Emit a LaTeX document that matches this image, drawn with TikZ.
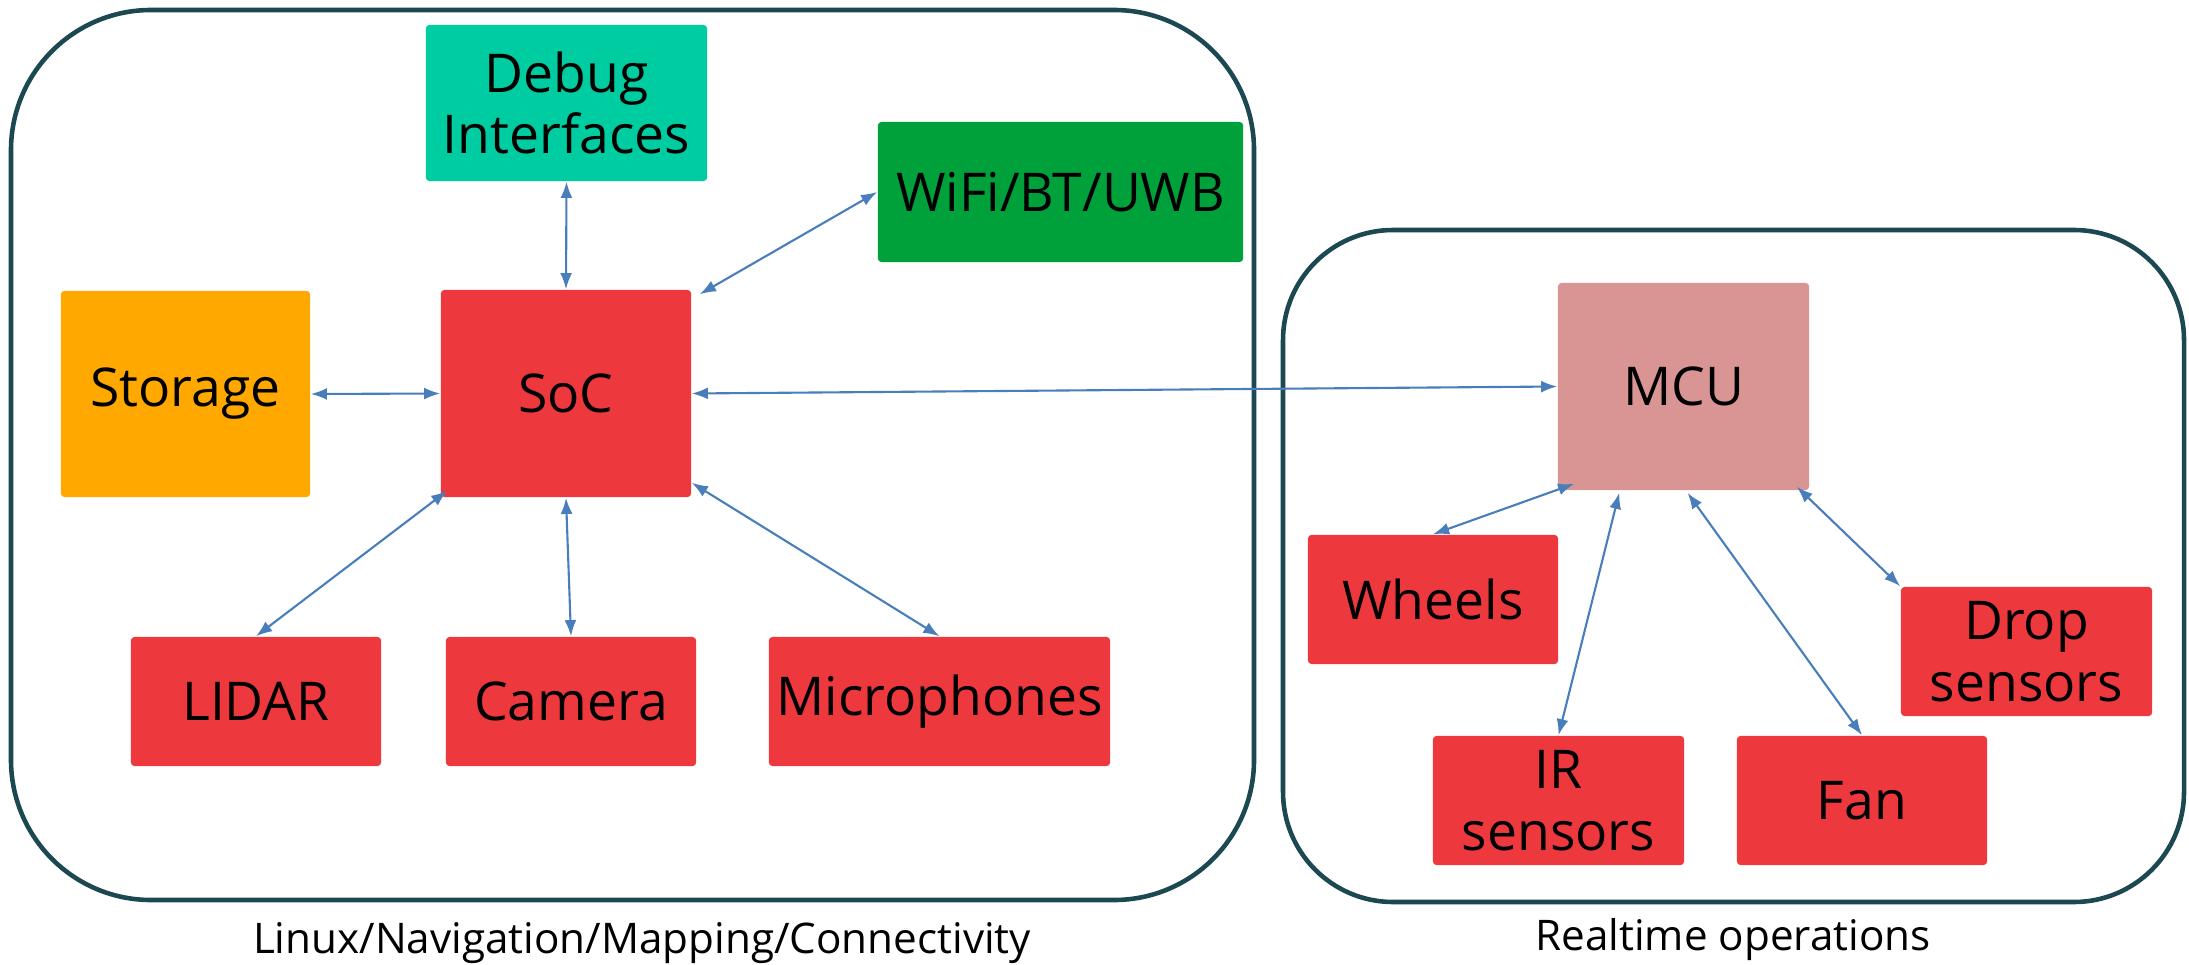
\documentclass[tikz,border=0pt]{standalone}
\usepackage{fontspec}
\setmainfont{Open Sans}
\usetikzlibrary{arrows.meta,calc}
\definecolor{cframe}{RGB}{28,72,82}
\definecolor{carr}{RGB}{74,126,187}
\definecolor{cred}{RGB}{237,57,62}
\definecolor{cteal}{RGB}{0,204,162}
\definecolor{cgreen}{RGB}{0,161,58}
\definecolor{corange}{RGB}{255,168,0}
\definecolor{cpink}{RGB}{217,149,148}
\newcommand{\nodefont}{\fontsize{15.2}{17.6}\selectfont}
\newcommand{\labfont}{\fontsize{12}{14}\selectfont}
\tikzset{
  blk/.style={rounded corners=1pt, inner sep=0pt, align=center, font=\nodefont, text=black},
  redblk/.style={blk, fill=cred},
  container/.style={draw=cframe, line width=1.3pt},
  conn/.style={{Latex[length=4.6pt,width=3.4pt]}-{Latex[length=4.6pt,width=3.4pt]}, draw=carr, line width=0.6pt},
  lbl/.style={font=\labfont, inner sep=0pt}
}
\begin{document}
\begin{tikzpicture}[x=0.01cm, y=-0.01cm]
\useasboundingbox (0,0) rectangle (2189,964);
% containers
\draw[container, rounded corners=1.4cm] (11,10) rectangle (1254,900);
\draw[container, rounded corners=1.1cm] (1283,230) rectangle (2184,902);
% left nodes
\node[blk, fill=cteal, minimum width=2.81cm, minimum height=1.56cm] (debug) at (566.5,103) {Debug\\Interfaces};
\node[blk, fill=cgreen, minimum width=3.65cm, minimum height=1.40cm] (wifi) at (1060.5,192) {WiFi/BT/UWB};
\node[blk, fill=corange, minimum width=2.49cm, minimum height=2.06cm] (storage) at (185.5,394) {Storage};
\node[redblk, minimum width=2.50cm, minimum height=2.07cm] (soc) at (566,393.5) {SoC};
\node[redblk, minimum width=2.50cm, minimum height=1.29cm] (lidar) at (256,701.5) {LIDAR};
\node[redblk, minimum width=2.50cm, minimum height=1.29cm] (camera) at (571,701.5) {Camera};
\node[redblk, minimum width=3.41cm, minimum height=1.29cm] (mic) at (939.5,701.5) {Microphones};
% right nodes
\node[blk, fill=cpink, minimum width=2.51cm, minimum height=2.07cm] (mcu) at (1683.5,386.5) {MCU};
\node[redblk, minimum width=2.50cm, minimum height=1.29cm] (wheels) at (1433,599.5) {Wheels};
\node[redblk, minimum width=2.51cm, minimum height=1.29cm] (drop) at (2026.5,651.5) {Drop\\sensors};
\node[redblk, minimum width=2.51cm, minimum height=1.29cm] (ir) at (1558.5,800.5) {IR\\sensors};
\node[redblk, minimum width=2.50cm, minimum height=1.29cm] (fan) at (1862,800.5) {Fan};
% labels
\node[lbl] (lab1) at (642,943) {Linux/Navigation/Mapping/Connectivity};
\node[lbl] (lab2) at (1733,940) {Realtime operations};
% connectors
\draw[conn] (debug.south) -- (soc.north);
\draw[conn] (wifi.west) -- ($(soc.north east)+(8,5)$);
\draw[conn] (storage.east) -- (soc.west);
\draw[conn] (soc.east) -- (mcu.west);
\draw[conn] ($(soc.south west)+(7,-7)$) -- (lidar.north);
\draw[conn] (soc.south) -- (camera.north);
\draw[conn] ($(soc.south east)+(0,-15)$) -- (mic.north);
\draw[conn] ($(mcu.south west)+(17,-7)$) -- (wheels.north);
\draw[conn] ($(mcu.south west)+(62,2)$) -- (ir.north);
\draw[conn] ($(mcu.south)+(4,2)$) -- (fan.north);
\draw[conn] ($(mcu.south east)+(-13,-4)$) -- (drop.north west);
\end{tikzpicture}
\end{document}
